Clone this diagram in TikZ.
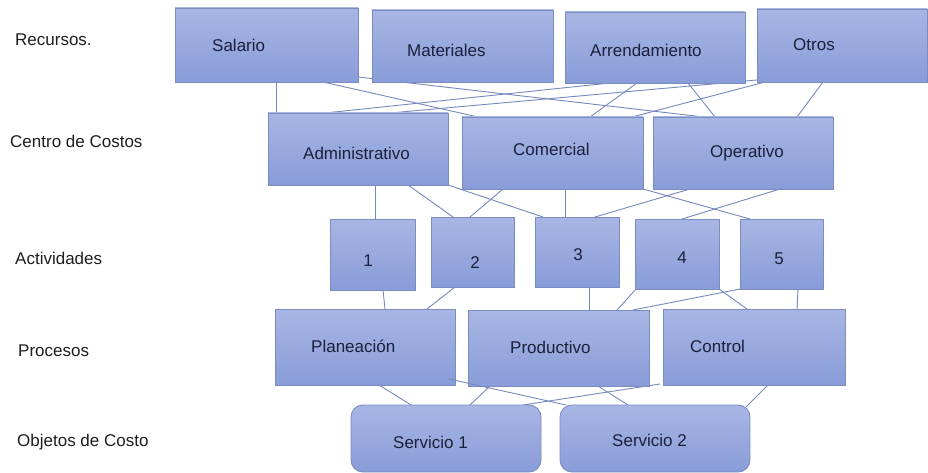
\documentclass[tikz,border=0pt]{standalone}
\usepackage{fontspec}
\setmainfont{Liberation Sans}
\definecolor{boxtop}{RGB}{168,182,228}
\definecolor{boxbot}{RGB}{136,156,216}
\definecolor{boxline}{RGB}{122,140,194}
\definecolor{connline}{RGB}{118,136,190}
\definecolor{txt}{RGB}{28,32,58}
\definecolor{lbl}{RGB}{30,30,30}
\begin{document}
\begin{tikzpicture}[x=1pt,y=-1pt,
  box/.style={draw=boxline, line width=0.9pt, top color=boxtop, bottom color=boxbot, anchor=north west, inner sep=0pt, outer sep=0pt},
  rbox/.style={box, rounded corners=12pt},
  conn/.style={draw=connline, line width=0.9pt},
  btext/.style={font=\fontsize{17}{20}\selectfont, text=txt, anchor=base west, inner sep=0pt},
  ltext/.style={font=\fontsize{17}{20}\selectfont, text=lbl, anchor=base west, inner sep=0pt}]
\useasboundingbox (0,0) rectangle (928,473);
\fill[white] (0,0) rectangle (928,473);

% invisible placeholders for box geometry (drawn later on top of connectors)
\path
  (175,8)   node[minimum width=183pt, minimum height=74pt, anchor=north west, inner sep=0pt, outer sep=0pt] (sal) {}
  (372,10)  node[minimum width=181pt, minimum height=72pt, anchor=north west, inner sep=0pt, outer sep=0pt] (mat) {}
  (565,12)  node[minimum width=180pt, minimum height=71pt, anchor=north west, inner sep=0pt, outer sep=0pt] (arr) {}
  (757,9)   node[minimum width=170pt, minimum height=73pt, anchor=north west, inner sep=0pt, outer sep=0pt] (otr) {}
  (268,113) node[minimum width=180pt, minimum height=72pt, anchor=north west, inner sep=0pt, outer sep=0pt] (adm) {}
  (462,117) node[minimum width=181pt, minimum height=72pt, anchor=north west, inner sep=0pt, outer sep=0pt] (com) {}
  (653,117) node[minimum width=180pt, minimum height=72pt, anchor=north west, inner sep=0pt, outer sep=0pt] (ope) {}
  (330,219) node[minimum width=85pt, minimum height=71pt, anchor=north west, inner sep=0pt, outer sep=0pt] (a1) {}
  (431,217) node[minimum width=83pt, minimum height=70pt, anchor=north west, inner sep=0pt, outer sep=0pt] (a2) {}
  (535,217) node[minimum width=84pt, minimum height=70pt, anchor=north west, inner sep=0pt, outer sep=0pt] (a3) {}
  (635,219) node[minimum width=84pt, minimum height=70pt, anchor=north west, inner sep=0pt, outer sep=0pt] (a4) {}
  (740,219) node[minimum width=83pt, minimum height=70pt, anchor=north west, inner sep=0pt, outer sep=0pt] (a5) {}
  (275,309) node[minimum width=180pt, minimum height=76pt, anchor=north west, inner sep=0pt, outer sep=0pt] (pla) {}
  (468,310) node[minimum width=181pt, minimum height=76pt, anchor=north west, inner sep=0pt, outer sep=0pt] (pro) {}
  (663,309) node[minimum width=182pt, minimum height=76pt, anchor=north west, inner sep=0pt, outer sep=0pt] (con) {}
  (351,405) node[minimum width=190pt, minimum height=67pt, anchor=north west, inner sep=0pt, outer sep=0pt] (s1) {}
  (560,405) node[minimum width=190pt, minimum height=67pt, anchor=north west, inner sep=0pt, outer sep=0pt] (s2) {};

% connectors: Recursos -> Centro de Costos
\draw[conn] ([xshift=101pt]sal.south west) -- ([xshift=8pt]adm.north west);
\draw[conn] ([xshift=148pt]sal.south west) -- ([xshift=16pt]com.north west);
\draw[conn] ([yshift=5pt]sal.south east) -- ([xshift=51pt]ope.north west);
\draw[conn] ([xshift=45pt]arr.south west) -- ([xshift=57pt]adm.north west);
\draw[conn] ([yshift=2pt]otr.south west) -- ([xshift=122pt]adm.north west);
\draw[conn] ([xshift=72pt]arr.south west) -- ([xshift=128pt]com.north west);
\draw[conn] ([xshift=123pt]arr.south west) -- ([xshift=62pt]ope.north west);
\draw[conn] ([xshift=8pt]otr.south west) -- ([xshift=170pt]com.north west);
\draw[conn] ([xshift=66pt]otr.south west) -- ([xshift=144pt]ope.north west);
% Centro de Costos -> Actividades
\draw[conn] ([xshift=107pt]adm.south west) -- ([xshift=45pt]a1.north west);
\draw[conn] ([xshift=140pt]adm.south west) -- ([xshift=22pt]a2.north west);
\draw[conn] ([xshift=41pt]com.south west) -- ([xshift=39pt]a2.north west);
\draw[conn] (adm.south east) -- ([xshift=8pt]a3.north west);
\draw[conn] ([xshift=103pt]com.south west) -- ([xshift=30pt]a3.north west);
\draw[conn] ([xshift=37pt]ope.south west) -- ([xshift=60pt]a3.north west);
\draw[conn] ([xshift=127pt]ope.south west) -- ([xshift=47pt]a4.north west);
\draw[conn] (com.south east) -- ([xshift=10pt]a5.north west);
% Actividades -> Procesos
\draw[conn] ([xshift=53pt]a1.south west) -- ([xshift=110pt]pla.north west);
\draw[conn] ([xshift=24pt]a2.south west) -- ([xshift=152pt]pla.north west);
\draw[conn] ([xshift=54pt]a3.south west) -- ([xshift=121pt]pro.north west);
\draw[conn] ([xshift=1pt]a4.south west) -- ([xshift=149pt]pro.north west);
\draw[conn] (a5.south west) -- ([xshift=165pt]pro.north west);
\draw[conn] (a4.south east) -- ([xshift=84pt]con.north west);
\draw[conn] ([xshift=58pt]a5.south west) -- ([xshift=134pt]con.north west);
% Procesos -> Objetos de Costo
\draw[conn] ([xshift=104pt]pla.south west) -- ([xshift=60pt]s1.north west);
\draw[conn] ([xshift=22pt]pro.south west) -- ([xshift=119pt]s1.north west);
\draw[conn] ([xshift=130pt]pro.south west) -- ([xshift=68pt]s2.north west);
\draw[conn] ([xshift=-3pt,yshift=1pt]con.south west) -- ([xshift=172pt]s1.north west);
\draw[conn] ([xshift=105pt]con.south west) -- ([xshift=-4pt,yshift=-2pt]s2.north east);

% boxes
\node[box, minimum width=183pt, minimum height=74pt] (bsal) at (175,8) {};
\node[box, minimum width=181pt, minimum height=72pt] (bmat) at (372,10) {};
\node[box, minimum width=180pt, minimum height=71pt] (barr) at (565,12) {};
\node[box, minimum width=170pt, minimum height=73pt] (botr) at (757,9) {};
\node[box, minimum width=180pt, minimum height=72pt] (badm) at (268,113) {};
\node[box, minimum width=181pt, minimum height=72pt] (bcom) at (462,117) {};
\node[box, minimum width=180pt, minimum height=72pt] (bope) at (653,117) {};
\node[box, minimum width=85pt, minimum height=71pt] (ba1) at (330,219) {};
\node[box, minimum width=83pt, minimum height=70pt] (ba2) at (431,217) {};
\node[box, minimum width=84pt, minimum height=70pt] (ba3) at (535,217) {};
\node[box, minimum width=84pt, minimum height=70pt] (ba4) at (635,219) {};
\node[box, minimum width=83pt, minimum height=70pt] (ba5) at (740,219) {};
\node[box, minimum width=180pt, minimum height=76pt] (bpla) at (275,309) {};
\node[box, minimum width=181pt, minimum height=76pt] (bpro) at (468,310) {};
\node[box, minimum width=182pt, minimum height=76pt] (bcon) at (663,309) {};
\node[rbox, minimum width=190pt, minimum height=67pt] (bs1) at (351,405) {};
\node[rbox, minimum width=190pt, minimum height=67pt] (bs2) at (560,405) {};

% connector drawn over the boxes
\draw[conn] ([xshift=174pt,yshift=6pt]pla.south west) -- ([xshift=6pt]s2.north west);

% box texts
\node[btext] (tsal) at (212,52) {Salario};
\node[btext] (tmat) at (407,57) {Materiales};
\node[btext] (tarr) at (590,57) {Arrendamiento};
\node[btext] (totr) at (793,51) {Otros};
\node[btext] (tadm) at (303,160) {Administrativo};
\node[btext] (tcom) at (513,156) {Comercial};
\node[btext] (tope) at (710,158) {Operativo};
\node[btext, anchor=base] (t1) at (368,266) {1};
\node[btext, anchor=base] (t2) at (475,268) {2};
\node[btext, anchor=base] (t3) at (578,260) {3};
\node[btext, anchor=base] (t4) at (682,263) {4};
\node[btext, anchor=base] (t5) at (779,264) {5};
\node[btext] (tpla) at (311,352) {Planeación};
\node[btext] (tpro) at (510,353) {Productivo};
\node[btext] (tcon) at (690,352) {Control};
\node[btext] (ts1) at (393,448) {Servicio 1};
\node[btext] (ts2) at (612,446) {Servicio 2};

% row labels
\node[ltext] (lrec) at (15,46) {Recursos.};
\node[ltext] (lcen) at (10,148) {Centro de Costos};
\node[ltext] (lact) at (15,264) {Actividades};
\node[ltext] (lpro) at (18,356) {Procesos};
\node[ltext] (lobj) at (17,446) {Objetos de Costo};
\end{tikzpicture}
\end{document}
